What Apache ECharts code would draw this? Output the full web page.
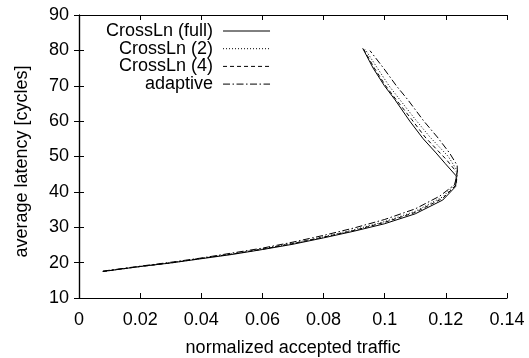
<!DOCTYPE html>
<html>
<head>
<meta charset="utf-8">
<script src="https://cdn.jsdelivr.net/npm/echarts@6/dist/echarts.min.js"></script>
<style>
  html, body { margin: 0; padding: 0; background: #fff; }
  #chart { width: 529px; height: 358px; }
</style>
</head>
<body>
<div id="chart"></div>
<script>
// Load–latency curves: [normalized accepted traffic, average latency in cycles]
const seriesNames = ['CrossLn (full)', 'CrossLn (2)', 'CrossLn (4)', 'adaptive'];

const crossFull = [
  [0.0078, 17.5], [0.02, 18.9], [0.03, 19.9], [0.04, 21.1], [0.05, 22.3],
  [0.06, 23.7], [0.07, 25.2], [0.08, 27.0], [0.09, 28.9], [0.10, 31.0],
  [0.11, 33.8], [0.119, 37.7], [0.1232, 41.5], [0.1234, 44.5], [0.1198, 48],
  [0.1168, 51], [0.1126, 55], [0.1082, 60], [0.1034, 66], [0.0999, 70],
  [0.0962, 75], [0.0928, 80.6]
];
const cross2 = [
  [0.0078, 17.5], [0.02, 18.9], [0.03, 20.0], [0.04, 21.2], [0.05, 22.5],
  [0.06, 23.9], [0.07, 25.5], [0.08, 27.3], [0.09, 29.3], [0.10, 31.6],
  [0.11, 34.5], [0.119, 38.6], [0.1235, 42.5], [0.1237, 46], [0.1208, 50],
  [0.1148, 55.5], [0.1100, 60.5], [0.1050, 66], [0.1014, 70], [0.0976, 75],
  [0.0936, 80.3]
];
const cross4 = [
  [0.0078, 17.5], [0.02, 18.9], [0.03, 19.9], [0.04, 21.2], [0.05, 22.4],
  [0.06, 23.8], [0.07, 25.4], [0.08, 27.2], [0.09, 29.1], [0.10, 31.4],
  [0.11, 34.2], [0.119, 38.2], [0.1234, 42], [0.1236, 45.5], [0.1203, 49],
  [0.1170, 52], [0.1132, 55.5], [0.1088, 60.5], [0.1038, 66], [0.1003, 70],
  [0.0966, 75], [0.0930, 80.5]
];
const adaptive = [
  [0.0078, 17.6], [0.02, 19.0], [0.03, 20.1], [0.04, 21.3], [0.05, 22.7],
  [0.06, 24.1], [0.07, 25.8], [0.08, 27.7], [0.09, 29.8], [0.10, 32.2],
  [0.11, 35.2], [0.118, 38.8], [0.1228, 42], [0.1238, 45], [0.1237, 47.5],
  [0.1212, 51], [0.1172, 55.5], [0.1128, 60], [0.1076, 66], [0.1038, 70],
  [0.0996, 75], [0.0952, 79.9]
];

const xTicks = { min: 0, max: 0.14, interval: 0.02 };
const yTicks = { min: 10, max: 90, interval: 10 };

const seriesData = [crossFull, cross2, cross4, adaptive];
const dashTypes = ['solid', [1, 2], [4, 3], [7, 2.5, 1.5, 2.5]];

const font = 'Liberation Sans, Arial, Helvetica, sans-serif';
const axisLine = { show: true, lineStyle: { color: '#000', width: 1.2 } };
const inTicks = { show: true, inside: true, length: 5, lineStyle: { color: '#000', width: 1 } };

const chart = echarts.init(document.getElementById('chart'), null, { renderer: 'canvas' });

chart.setOption({
  animation: false,
  backgroundColor: '#fff',
  grid: { left: 79, right: 22, top: 15, bottom: 60, containLabel: false, outerBoundsMode: 'none' },
  legend: {
    orient: 'vertical',
    align: 'right',
    left: 101,
    top: 17,
    itemGap: -0.3,
    itemWidth: 47,
    itemHeight: 10,
    formatter: name => name + ' ',
    itemStyle: { opacity: 0 },
    lineStyle: { width: 1 },
    textStyle: { fontFamily: font, fontSize: 18, color: '#000' },
    data: seriesNames
  },
  xAxis: [
    {
      type: 'value', min: xTicks.min, max: xTicks.max, interval: xTicks.interval,
      name: 'normalized accepted traffic', nameLocation: 'middle', nameGap: 41,
      nameTextStyle: { fontFamily: font, fontSize: 18, color: '#000' },
      axisLine: axisLine, axisTick: inTicks, splitLine: { show: false },
      axisLabel: { fontFamily: font, fontSize: 18, color: '#000', margin: 13 }
    },
    {
      type: 'value', position: 'top', min: xTicks.min, max: xTicks.max, interval: xTicks.interval,
      axisLine: axisLine, axisTick: inTicks, splitLine: { show: false },
      axisLabel: { show: false }
    }
  ],
  yAxis: [
    {
      type: 'value', min: yTicks.min, max: yTicks.max, interval: yTicks.interval,
      name: 'average latency [cycles]', nameLocation: 'middle', nameGap: 48,
      nameTextStyle: { fontFamily: font, fontSize: 18, color: '#000', padding: [0, 10, 0, 0] },
      axisLine: axisLine, axisTick: inTicks, splitLine: { show: false },
      axisLabel: { fontFamily: font, fontSize: 18, color: '#000', margin: 10 }
    },
    {
      type: 'value', position: 'right', min: yTicks.min, max: yTicks.max, interval: yTicks.interval,
      axisLine: axisLine, axisTick: inTicks, splitLine: { show: false },
      axisLabel: { show: false }
    }
  ],
  series: seriesNames.map((name, i) => ({
    name: name,
    type: 'line',
    data: seriesData[i],
    symbol: 'none',
    smooth: false,
    color: '#000',
    lineStyle: { color: '#000', width: 1, type: dashTypes[i] },
    z: 10 - i
  }))
});
</script>
</body>
</html>
